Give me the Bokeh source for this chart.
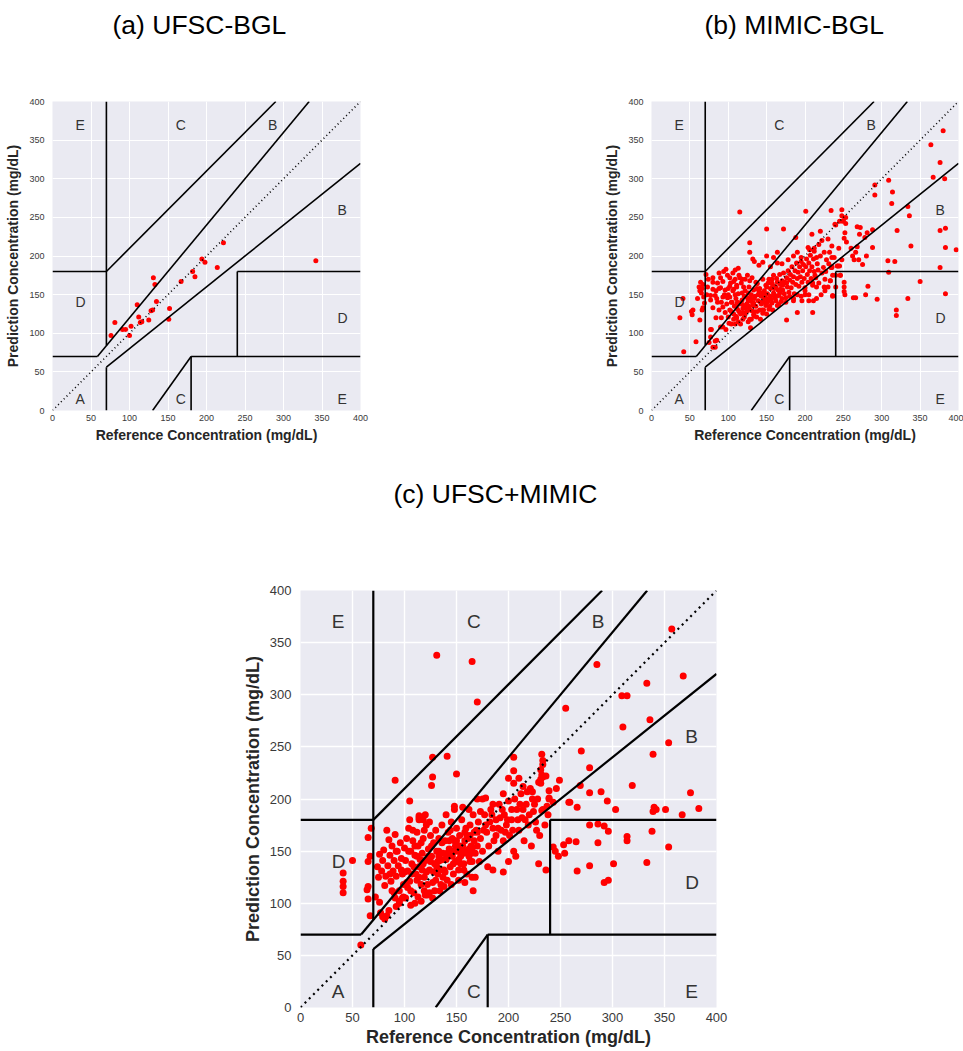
from bokeh.plotting import figure
from bokeh.layouts import column, row
from bokeh.models import Range1d, Title
from bokeh.core.properties import value
from bokeh.embed import file_html
from bokeh.resources import INLINE

FONT = "Liberation Sans"
TICKS = [0, 50, 100, 150, 200, 250, 300, 350, 400]

# Clarke error grid zone boundaries
zone_xs = [[0, 175 / 3], [175 / 3, 400 / 1.2], [70, 70], [0, 70], [70, 290], [70, 70],
           [70, 400], [180, 180], [180, 400], [240, 240], [240, 400], [130, 180]]
zone_ys = [[70, 70], [70, 400], [84, 400], [180, 180], [180, 400], [0, 56],
           [56, 320], [0, 70], [70, 70], [70, 180], [180, 180], [0, 70]]
diag = [0, 400]
zone_lx = [30, 370, 280, 160, 160, 30, 370, 30, 370]
zone_ly = [15, 260, 370, 370, 15, 140, 120, 370, 15]
zone_txt = ["A", "B", "B", "C", "C", "D", "D", "E", "E"]

# ---------------- (a) UFSC-BGL ----------------
a_ref = [76, 81, 91, 95, 100, 102, 110, 112, 114, 116, 125, 128, 130, 131, 133, 135,
         151, 152, 167, 182, 185, 194, 198, 214, 222, 342]
a_pred = [97, 114, 105, 105, 97, 109, 137, 121, 114, 115, 117, 129, 130, 172, 163, 141,
          118, 132, 167, 180, 173, 196, 192, 185, 217, 194]

# ---------------- (b) MIMIC-BGL ----------------
b_left = [(37, 120), (42, 76), (41, 145), (52, 128), (53, 124), (58, 89), (60, 145), (62, 160),
          (63, 155), (64, 166), (65, 152), (66, 158), (67, 163), (67, 133), (66, 130), (63, 117),
          (68, 147), (69, 139), (54, 130)]
b_band = [(80, 172), (88, 178), (94, 180), (97, 183), (80, 166), (90, 172), (93, 167), (102, 172),
          (107, 167), (80, 157), (90, 159), (77, 149), (77, 143), (83, 149), (85, 145), (88, 158),
          (93, 147), (96, 156), (100, 158), (102, 147), (102, 161), (107, 157), (111, 162),
          (118, 170), (115, 172), (109, 182), (113, 184), (80, 133), (88, 130), (93, 134),
          (96, 127), (100, 121), (102, 130), (107, 125), (111, 120), (90, 108), (93, 108),
          (97, 105), (77, 105), (77, 95), (83, 82), (85, 91), (75, 88), (80, 82), (83, 90),
          (78, 105), (72, 150), (73, 160), (71, 176), (74, 170), (86, 140), (98, 138),
          (104, 112), (109, 112), (129, 107), (91, 120), (84, 120), (99, 146), (86, 165),
          (95, 150), (104, 140), (91, 140), (106, 178), (99, 175), (84, 155), (101, 113)]
b_upper = [(115, 257), (150, 235), (172, 235), (128, 217), (128, 205), (132, 196), (134, 193),
           (150, 200), (159, 198), (164, 191), (164, 205), (188, 224), (209, 228), (220, 232),
           (204, 211), (206, 208), (212, 206), (201, 258), (145, 192), (140, 188), (155, 186),
           (170, 190), (178, 195), (185, 200), (190, 205), (195, 198)]
b_core = [(105, 140), (108, 135), (110, 145), (112, 131), (113, 151), (115, 138), (116, 125),
          (118, 143), (119, 132), (121, 148), (121, 121), (122, 155), (124, 138), (124, 128),
          (125, 146), (127, 135), (127, 160), (128, 118), (130, 150), (130, 141), (131, 129),
          (133, 124), (133, 156), (134, 145), (136, 135), (136, 166), (137, 121), (139, 150),
          (139, 142), (141, 130), (141, 158), (143, 148), (143, 138), (145, 170), (145, 126),
          (147, 155), (147, 145), (149, 136), (149, 162), (151, 151), (151, 140), (153, 170),
          (153, 131), (155, 158), (155, 148), (157, 165), (157, 139), (159, 175), (159, 152),
          (161, 146), (162, 160), (163, 171), (164, 136), (165, 156), (166, 149), (167, 176),
          (168, 163), (169, 141), (170, 168), (171, 156), (172, 178), (173, 151), (174, 166),
          (175, 146), (176, 172), (177, 160), (178, 181), (179, 153), (180, 169), (181, 176),
          (182, 159), (183, 186), (184, 166), (185, 173), (186, 151), (187, 181), (188, 163),
          (189, 191), (190, 171), (191, 179), (192, 161), (193, 186), (194, 173), (195, 193),
          (196, 166), (197, 181), (198, 189), (199, 171), (200, 159), (201, 186), (202, 196),
          (203, 176), (204, 166), (205, 191), (206, 181), (207, 201), (208, 171), (209, 186),
          (210, 162), (211, 196), (100, 150), (103, 165), (106, 155), (109, 170), (111, 160),
          (114, 175), (117, 165), (120, 160), (122, 170), (125, 175), (128, 168), (131, 172),
          (104, 128), (107, 118), (110, 122), (113, 115), (116, 112), (119, 118), (122, 125),
          (126, 115), (130, 118), (134, 122), (138, 128), (142, 118), (146, 130), (150, 125),
          (154, 135), (158, 130), (162, 142), (166, 138), (170, 145), (175, 140), (180, 148),
          (185, 142), (190, 150), (195, 148), (200, 155), (205, 150), (210, 165), (215, 160),
          (112, 140), (118, 152), (126, 142), (132, 136), (137, 158), (144, 152), (150, 160),
          (156, 144), (160, 158), (167, 152), (114, 128), (120, 136), (128, 130), (135, 148),
          (142, 140), (148, 150), (152, 143), (158, 162), (164, 166), (171, 162), (109, 150),
          (117, 140), (123, 133), (129, 145), (135, 128), (140, 154), (146, 140), (152, 165),
          (160, 150), (168, 157), (111, 137), (119, 127), (126, 152), (133, 139), (138, 164),
          (144, 130), (150, 145), (157, 170), (163, 148), (176, 165)]
b_right = [(212, 180), (214, 172), (216, 190), (218, 165), (220, 200), (222, 178), (224, 185),
           (226, 170), (228, 195), (230, 160), (232, 205), (234, 185), (236, 175), (238, 198),
           (240, 160), (242, 187), (244, 210), (246, 175), (248, 195), (212, 210), (215, 198),
           (218, 215), (222, 220), (225, 205), (230, 222), (235, 213), (240, 240), (245, 245),
           (248, 252), (250, 246), (213, 175), (217, 182), (227, 180), (231, 190), (221, 150),
           (226, 155), (236, 148), (233, 168), (235, 185), (211, 142), (210, 127), (205, 142),
           (196, 142), (190, 127), (176, 117), (185, 145), (200, 150), (215, 145), (225, 160),
           (240, 175), (245, 187)]
b_sparse = [(380, 362), (364, 344), (376, 321), (367, 302), (382, 300), (291, 292), (309, 298),
            (291, 279), (314, 283), (313, 268), (334, 264), (336, 252), (383, 236), (376, 233),
            (320, 233), (288, 234), (338, 213), (383, 211), (397, 208), (288, 211), (308, 194),
            (317, 193), (309, 179), (350, 167), (376, 185), (334, 145), (319, 130), (319, 123),
            (383, 151), (294, 144), (279, 150), (282, 161), (263, 146), (266, 146), (251, 166),
            (251, 154), (252, 150), (251, 160), (275, 189), (281, 230), (272, 237), (271, 228),
            (278, 224), (252, 230), (254, 218), (253, 250), (248, 260), (249, 245), (253, 242),
            (234, 259), (239, 241), (251, 223), (262, 200), (266, 205), (268, 212), (264, 195),
            (268, 238), (235, 198), (243, 187), (235, 186), (246, 175), (236, 149), (233, 168),
            (260, 210), (270, 195), (280, 200)]

# ---------------- (c) UFSC+MIMIC ----------------
c_left = [(41, 129), (41, 121), (41, 116), (41, 110), (50, 141), (58, 60), (65, 163), (65, 140),
          (67, 145), (65, 116), (64, 113), (65, 104), (67, 88), (68, 172)]
c_low = [(72, 106), (76, 101), (77, 91), (79, 87), (81, 85), (83, 88), (85, 93), (88, 112),
         (91, 105), (92, 97), (95, 102), (99, 106)]
c_upper = [(131, 338), (165, 332), (170, 293), (91, 218), (127, 240), (127, 221), (126, 213),
           (141, 241), (150, 224), (105, 198), (114, 184), (114, 182), (114, 180), (148, 193),
           (170, 200), (178, 201), (173, 188), (205, 240), (205, 227), (214, 212), (218, 207),
           (223, 207)]
c_core = [(76, 147), (78, 131), (79, 141), (80, 151), (82, 126), (83, 170), (84, 136), (85, 161),
          (86, 146), (87, 121), (88, 155), (89, 131), (90, 141), (91, 166), (92, 126), (93, 150),
          (94, 136), (95, 112), (96, 158), (97, 143), (98, 128), (99, 118), (100, 153), (74, 135),
          (75, 125), (81, 117), (90, 110), (95, 100), (98, 105), (101, 141), (102, 162),
          (103, 131), (104, 172), (105, 121), (106, 150), (107, 138), (108, 160), (109, 110),
          (110, 146), (111, 128), (112, 168), (113, 155), (114, 135), (115, 182), (116, 118),
          (117, 148), (118, 162), (119, 125), (120, 141), (121, 175), (122, 108), (123, 152),
          (124, 132), (125, 165), (126, 145), (127, 120), (128, 158), (129, 138), (130, 170),
          (101, 105), (103, 115), (106, 98), (110, 100), (113, 106), (116, 102), (119, 112),
          (124, 110), (127, 105), (129, 112), (105, 180), (118, 180), (124, 178), (120, 185),
          (131, 150), (132, 128), (133, 162), (134, 141), (135, 118), (136, 175), (137, 148),
          (138, 132), (139, 160), (140, 142), (141, 122), (142, 168), (143, 152), (144, 135),
          (145, 178), (146, 145), (147, 128), (148, 160), (149, 140), (150, 172), (151, 150),
          (152, 132), (153, 165), (154, 145), (155, 180), (156, 155), (157, 138), (158, 168),
          (159, 150), (160, 128), (161, 162), (162, 145), (163, 175), (164, 155), (165, 140),
          (166, 185), (167, 160), (168, 148), (169, 170), (170, 155), (134, 112), (138, 116),
          (145, 118), (152, 122), (158, 120), (165, 125), (166, 112), (168, 125), (140, 185),
          (148, 190), (156, 192), (162, 190), (107, 128), (112, 145), (118, 138), (123, 145),
          (128, 130), (133, 150), (138, 142), (143, 160), (148, 150), (153, 155), (158, 160),
          (163, 165), (112, 122), (117, 132), (122, 118), (132, 140), (137, 125), (142, 145),
          (147, 138), (152, 142), (157, 148), (162, 152), (167, 168), (92, 150), (97, 132),
          (102, 120), (86, 128), (108, 170), (116, 158), (104, 150), (109, 135), (115, 142),
          (121, 130), (126, 155), (131, 135), (136, 158), (141, 148), (146, 162), (151, 140),
          (155, 150), (160, 165), (165, 152), (170, 168), (110, 155), (119, 170), (125, 140),
          (133, 145), (139, 130), (144, 170), (149, 155), (154, 138), (159, 172), (164, 148),
          (100, 130), (106, 112), (114, 125), (120, 108), (130, 122), (135, 132), (145, 150),
          (150, 160), (157, 132), (163, 140)]
c_right = [(171, 178), (173, 162), (175, 150), (177, 185), (179, 168), (181, 155), (183, 190),
           (185, 172), (186, 160), (188, 180), (190, 150), (191, 195), (193, 170), (195, 160),
           (196, 185), (198, 175), (200, 198), (201, 165), (203, 180), (205, 150), (206, 200),
           (208, 190), (210, 170), (212, 205), (213, 182), (215, 160), (217, 195), (219, 175),
           (221, 210), (222, 155), (224, 188), (226, 178), (228, 200), (230, 165), (231, 215),
           (233, 190), (235, 175), (236, 222), (238, 185), (239, 200), (172, 140), (180, 135),
           (185, 132), (195, 130), (200, 140), (207, 145), (175, 200), (185, 195), (195, 205),
           (205, 215), (210, 220), (200, 220), (232, 243), (233, 237), (233, 233), (231, 228),
           (232, 223), (233, 221), (231, 219), (229, 216), (176, 170), (182, 178), (188, 165),
           (192, 182), (197, 168), (203, 190), (209, 180), (214, 190), (220, 185), (225, 195),
           (178, 175), (184, 185), (190, 172), (194, 190), (199, 180), (204, 170), (211, 195),
           (216, 180), (223, 200), (227, 170)]
c_sparse = [(285, 329), (357, 363), (368, 318), (333, 311), (309, 299), (314, 299), (310, 269),
            (336, 276), (255, 287), (354, 254), (339, 243), (270, 246), (278, 230), (319, 213),
            (269, 213), (375, 206), (289, 207), (278, 206), (295, 198), (259, 197), (266, 192),
            (303, 190), (340, 192), (342, 190), (339, 188), (351, 190), (367, 185), (383, 191),
            (278, 175), (286, 176), (292, 174), (296, 169), (338, 169), (314, 164), (314, 160),
            (286, 158), (354, 154), (333, 139), (301, 138), (278, 136), (266, 131), (292, 120),
            (296, 122), (258, 160), (265, 159), (253, 156), (248, 145), (254, 148), (243, 154),
            (245, 150), (236, 132), (229, 138), (249, 218), (258, 197), (239, 208), (246, 210),
            (239, 201), (243, 197), (237, 193), (232, 189)]


def split(*lists):
    xs, ys = [], []
    for lst in lists:
        for x, y in lst:
            xs.append(x)
            ys.append(y)
    return xs, ys


def panel(xs, ys, fw, fh, L, R, T, B, s):
    p = figure(frame_width=fw, frame_height=fh, min_border_left=L, min_border_right=R,
               min_border_top=T, min_border_bottom=B,
               x_range=Range1d(0, 400), y_range=Range1d(0, 400),
               output_backend="svg", toolbar_location=None,
               background_fill_color="#EAEAF2", border_fill_color="white",
               outline_line_color=None)
    for ax in (p.xaxis[0], p.yaxis[0]):
        ax.ticker = TICKS
        ax.axis_line_color = None
        ax.major_tick_line_color = None
        ax.minor_tick_line_color = None
        ax.major_tick_out = 0
        ax.major_tick_in = 0
        ax.major_label_text_font = FONT
        ax.major_label_text_font_size = s["tick"]
        ax.major_label_text_color = "#3a3a3a"
        ax.axis_label_text_font = FONT
        ax.axis_label_text_font_size = s["lab"]
        ax.axis_label_text_font_style = "bold"
        ax.axis_label_text_color = "#262626"
    p.xaxis.axis_label = "Reference Concentration (mg/dL)"
    p.yaxis.axis_label = "Prediction Concentration (mg/dL)"
    p.xaxis.major_label_standoff = s["xso"]
    p.yaxis.major_label_standoff = s["yso"]
    p.xaxis.axis_label_standoff = s["xlso"]
    p.yaxis.axis_label_standoff = s["ylso"]
    p.xgrid.grid_line_color = "white"
    p.ygrid.grid_line_color = "white"
    p.xgrid.grid_line_width = s["gw"]
    p.ygrid.grid_line_width = s["gw"]

    p.scatter(xs, ys, size=s["pt"], fill_color="red", line_color=None)
    p.multi_line(zone_xs, zone_ys, line_color="black", line_width=s["lw"])
    p.line(diag, diag, line_color="black", line_width=s["lw"], line_dash=s["dash"])
    p.text(zone_lx, zone_ly, text=zone_txt, text_font=value(FONT), text_font_size=s["zone"],
           text_color="#333333", text_align="left", text_baseline="alphabetic")
    # spacer (closest to the frame), then the visible title above it
    p.add_layout(Title(text=" ", text_font_size="1px", standoff=s["gap"]), "above")
    p.add_layout(Title(text=s["title"], text_font=FONT, text_font_size="26.5px",
                       text_font_style="normal", text_color="black", align="left",
                       vertical_align="bottom", offset=s["toff"], standoff=6), "above")
    return p


small = dict(tick="9px", lab="14px", zone="14px", pt=5, lw=1.6, gw=1.0, dash="1 3",
             xso=4, yso=8, xlso=3, ylso=5)
big = dict(tick="13px", lab="18px", zone="19px", pt=7, lw=2.2, gw=1.4, dash="2 4",
           xso=5, yso=9, xlso=2, ylso=4)

pa = panel(a_ref, a_pred, 308, 309, 52, 141, 101, 50,
           dict(small, title="(a) UFSC-BGL", toff=60, gap=56))
bx, by = split(b_left, b_band, b_upper, b_core, b_right, b_sparse)
pb = panel(bx, by, 307, 309, 150, 5, 101, 50,
           dict(small, title="(b) MIMIC-BGL", toff=53, gap=56))
cx, cy = split(c_left, c_low, c_upper, c_core, c_right, c_sparse)
pc = panel(cx, cy, 416, 417, 300, 247, 130, 44,
           dict(big, title="(c) UFSC+MIMIC", toff=93, gap=76))

layout = column(row(pa, pb, spacing=0), pc, spacing=0)
open("out.html", "w").write(file_html(layout, INLINE))
